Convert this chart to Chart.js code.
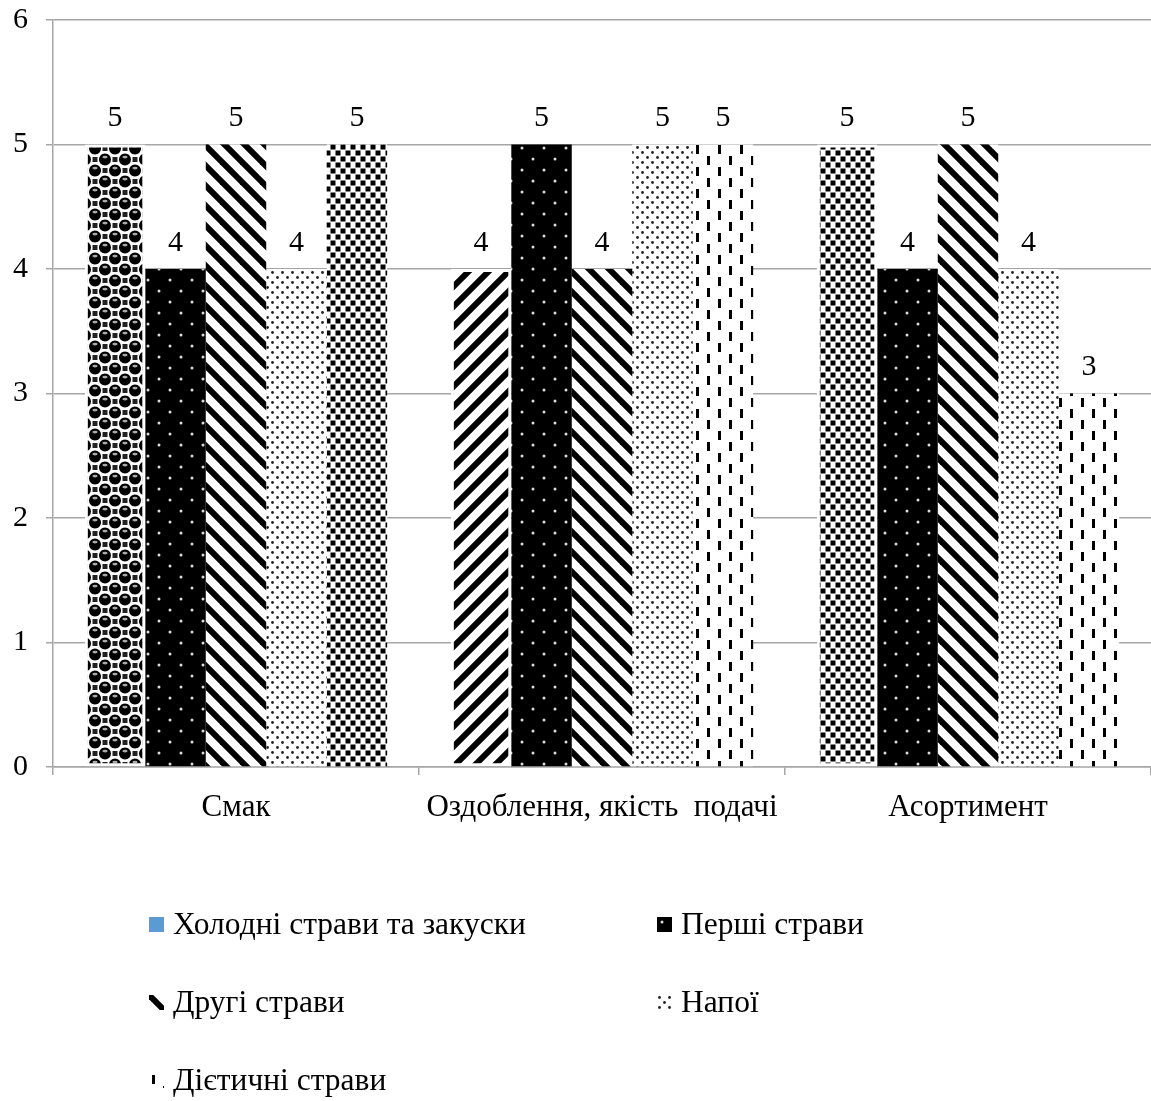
<!DOCTYPE html>
<html><head><meta charset="utf-8">
<script src="https://cdn.jsdelivr.net/npm/chart.js@4.4.1/dist/chart.umd.min.js"></script>
<style>html,body{margin:0;padding:0;background:#fff;}#wrap{width:1151px;height:1101px;position:relative;}</style>
</head><body><div id="wrap"><canvas id="c" width="1151" height="1101"></canvas></div>
<script>
const categories = ['Смак', 'Оздоблення, якість  подачі', 'Асортимент'];
const seriesNames = ['Холодні страви та закуски', 'Перші страви', 'Другі страви', 'Напої', 'Дієтичні страви'];
const coldDishes = [5, 4, 5];
const firstCourses = [4, 5, 4];
const secondCourses = [5, 4, 5];
const drinks = [4, 5, 4];
const dietDishes = [5, 5, 3];
const yTicks = [0, 1, 2, 3, 4, 5, 6];

const FONT = 'Liberation Serif';
const GRID = '#a6a6a6';
const canvas = document.getElementById('c');
const mainCtx = canvas.getContext('2d');

function makePattern(w, h, draw) {
  const c = document.createElement('canvas');
  c.width = w; c.height = h;
  const g = c.getContext('2d');
  g.fillStyle = '#fff'; g.fillRect(0, 0, w, h);
  draw(g, w, h);
  return mainCtx.createPattern(c, 'repeat');
}
function wrapDraw(w, h, pts, fn) {
  pts.forEach(([x, y]) => {
    for (let dx = -w; dx <= w; dx += w) for (let dy = -h; dy <= h; dy += h) fn(x + dx, y + dy);
  });
}
const P = {
  spheres: makePattern(20, 22, (g, w, h) => {
    wrapDraw(w, h, [[15, 5.5], [5, 16.5]], (x, y) => {
      g.fillStyle = '#222'; g.fillRect(x - 2.5, y - 2.5, 5, 5);
    });
    wrapDraw(w, h, [[5, 5.5], [15, 16.5]], (x, y) => {
      g.fillStyle = '#000'; g.beginPath(); g.arc(x, y, 6, 0, Math.PI * 2); g.fill();
      g.fillStyle = '#aaa'; g.beginPath(); g.ellipse(x, y - 2.4, 2.6, 1.3, 0, 0, Math.PI * 2); g.fill();
    });
  }),
  blackDots: makePattern(22, 22, (g, w, h) => {
    g.fillStyle = '#000'; g.fillRect(0, 0, w, h);
    g.fillStyle = '#ddd';
    [[5, 5], [16, 16]].forEach(([x, y]) => { g.beginPath(); g.arc(x, y, 1.5, 0, Math.PI * 2); g.fill(); });
  }),
  diagDown: makePattern(20, 20, (g) => {
    g.strokeStyle = '#000'; g.lineWidth = 6;
    for (let k = -2; k <= 2; k++) { g.beginPath(); g.moveTo(k * 20 - 5, -5); g.lineTo(k * 20 + 25, 25); g.stroke(); }
  }),
  diagUp: makePattern(20, 20, (g) => {
    g.strokeStyle = '#000'; g.lineWidth = 6;
    for (let k = -2; k <= 2; k++) { g.beginPath(); g.moveTo(k * 20 + 25, -5); g.lineTo(k * 20 - 5, 25); g.stroke(); }
  }),
  lightDots: makePattern(10, 10, (g, w, h) => {
    g.fillStyle = '#222';
    wrapDraw(w, h, [[2.5, 2.5], [7.5, 7.5]], (x, y) => { g.beginPath(); g.arc(x, y, 1.4, 0, Math.PI * 2); g.fill(); });
  }),
  squares: makePattern(10, 12, (g, w, h) => {
    g.fillStyle = '#000';
    wrapDraw(w, h, [[3, 3], [8, 9]], (x, y) => { g.fillRect(x - 2.5, y - 2.5, 5, 5); });
  }),
  vertDash: makePattern(22, 22, (g) => {
    g.fillStyle = '#000';
    g.fillRect(3, 2, 3, 9);
    g.fillRect(14, 13, 3, 9);
  })
};

const pointFills = [
  [P.spheres, P.diagUp, P.squares],
  [P.blackDots, P.blackDots, P.blackDots],
  [P.diagDown, P.diagDown, P.diagDown],
  [P.lightDots, P.lightDots, P.lightDots],
  [P.squares, P.vertDash, P.vertDash]
];
const legendFills = ['#5B9BD5', P.blackDots, P.diagDown, P.lightDots, P.vertDash];
const seriesValues = [coldDishes, firstCourses, secondCourses, drinks, dietDishes];

const datasets = seriesValues.map((vals, i) => ({
  label: seriesNames[i],
  data: vals,
  backgroundColor: pointFills[i],
  hoverBackgroundColor: pointFills[i],
  borderColor: '#fff',
  borderWidth: i === 0 ? 3 : 0,
  borderSkipped: false,
  barPercentage: 1,
  categoryPercentage: 0.826
}));

const valueLabels = {
  id: 'valueLabels',
  afterDatasetsDraw(chart) {
    const ctx = chart.ctx;
    ctx.save();
    ctx.font = `30px "${FONT}"`;
    ctx.fillStyle = '#000';
    ctx.textAlign = 'center';
    ctx.textBaseline = 'middle';
    chart.data.datasets.forEach((ds, di) => {
      chart.getDatasetMeta(di).data.forEach((el, j) => {
        ctx.fillText(String(ds.data[j]), el.x, el.y - 26);
      });
    });
    ctx.restore();
  }
};

const customLegend = {
  id: 'customLegend',
  afterDraw(chart) {
    const ctx = chart.ctx;
    const cols = [149, 657];
    const rows = [926, 1004, 1082];
    ctx.save();
    ctx.font = `31.5px "${FONT}"`;
    ctx.textBaseline = 'middle';
    ctx.textAlign = 'left';
    seriesNames.forEach((name, i) => {
      const x = cols[i % 2], y = rows[Math.floor(i / 2)];
      ctx.save();
      ctx.translate(x, y - 9);
      ctx.fillStyle = legendFills[i];
      ctx.fillRect(0, 0, 15, 15);
      ctx.restore();
      ctx.fillStyle = '#000';
      ctx.fillText(name, x + 24, y);
    });
    ctx.restore();
  }
};

new Chart(canvas, {
  type: 'bar',
  data: { labels: categories, datasets },
  options: {
    responsive: false,
    animation: false,
    layout: { padding: { top: 20, left: 0, right: 0, bottom: 0 } },
    plugins: { legend: { display: false }, tooltip: { enabled: false } },
    scales: {
      x: {
        ticks: { color: '#000', font: { family: FONT, size: 31 }, padding: 14, maxRotation: 0, autoSkip: false },
        grid: { offset: true, drawOnChartArea: false, drawTicks: true, tickLength: 8, color: GRID, lineWidth: 1.5 },
        border: { color: GRID, width: 1.5 },
        afterFit(s) { s.height = 334; s.paddingLeft = 0; s.paddingRight = 0; }
      },
      y: {
        min: 0, max: 6,
        afterBuildTicks(s) { s.ticks = yTicks.map(v => ({ value: v })); },
        ticks: { color: '#000', font: { family: FONT, size: 30 }, padding: 18 },
        grid: { color: GRID, lineWidth: 1.5, tickLength: 7, drawTicks: true },
        border: { color: GRID, width: 1.5 },
        afterFit(s) { s.width = 53; s.paddingTop = 0; s.paddingBottom = 0; }
      }
    }
  },
  plugins: [valueLabels, customLegend]
});
</script></body></html>
